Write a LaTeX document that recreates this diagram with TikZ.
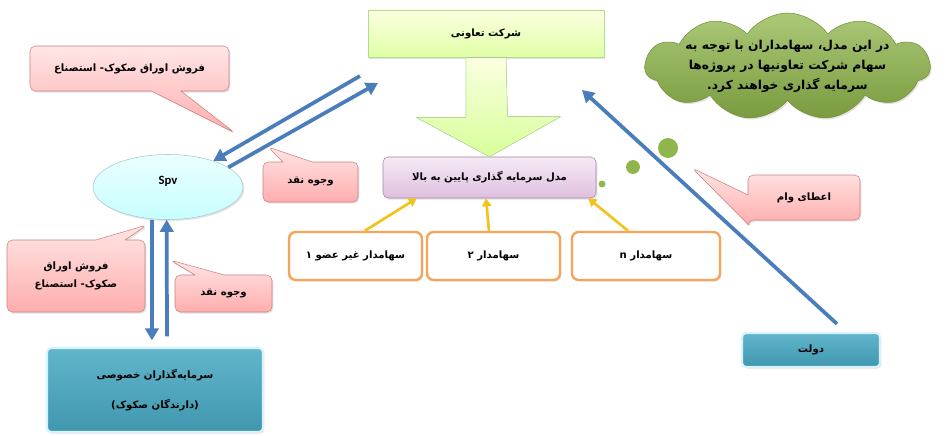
\documentclass[tikz,border=0pt]{standalone}
\usepackage{fontspec}
\setmainfont{Carlito}
\newfontfamily\farsifont[Script=Arabic]{DejaVu Sans}
\TeXXeTstate=1
\usetikzlibrary{shapes.geometric,shapes.callouts,shapes.symbols,shadows,arrows.meta}
\newcommand\rtl[1]{{\farsifont\beginR #1\endR}}
\definecolor{arrblue}{HTML}{4A7EBB}
\definecolor{arryellow}{HTML}{F2C31A}
\definecolor{boxorange}{HTML}{F5A55A}
\definecolor{tealbox}{HTML}{46A8C2}
\definecolor{cloudgreen}{HTML}{8FB64A}
\tikzset{
  base/.style={font=\fontsize{7.6}{10}\selectfont\bfseries, align=center, inner sep=0pt,
    drop shadow={opacity=.22, shadow xshift=1pt, shadow yshift=-1.2pt}},
  greenbox/.style={base, rectangle, draw=green!40!olive!45, top color=green!12!yellow!12, bottom color=green!35!yellow!35},
  purplebox/.style={base, rectangle, rounded corners=4pt, draw=violet!40!gray!70, top color=violet!8, bottom color=violet!25},
  holderbox/.style={base, rectangle, rounded corners=5pt, draw=boxorange, line width=1.8pt, fill=white},
  pinknote/.style={base, rectangle callout, rounded corners=4pt, callout pointer width=22pt, draw=red!45!gray!70, top color=red!10, bottom color=red!32},
  tealrect/.style={base, rectangle, rounded corners=3pt, draw=cyan!15, line width=1.6pt, top color=tealbox!85!white, bottom color=tealbox!90!black},
  bluearr/.style={draw=arrblue, line width=2.8pt, -{Triangle[length=9pt,width=10pt]}},
  yellowarr/.style={draw=arryellow, line width=2pt, -{Triangle[length=6pt,width=7pt]}}
}
\begin{document}
\begin{tikzpicture}[x=0.75pt,y=-0.75pt,line join=round]
  \useasboundingbox (0,0) rectangle (948,435);

  \node[greenbox, minimum width=177pt, minimum height=35.25pt] (company) at (486,33.5) {\rtl{شرکت تعاونی}};
  \node[purplebox, minimum width=159.75pt, minimum height=30.75pt] (model) at (489.5,177.5) {\rtl{مدل سرمایه گذاری پایین به بالا}};
  \fill[top color=green!12!yellow!12, bottom color=green!40!yellow!40, draw=green!40!olive!40]
    ([xshift=-15pt]company.south) -- ++(0,60) -- ++(-50,0) -- (model.north)
    -- ++(71,-40) -- ++(-53,0) -- ([xshift=15pt]company.south);

  \node[holderbox, minimum width=99.75pt, minimum height=36pt] (sh1) at (355.5,256) {\rtl{سهامدار غیر عضو ۱}};
  \node[holderbox, minimum width=99.75pt, minimum height=36pt] (sh2) at (493.5,256) {\rtl{سهامدار ۲}};
  \node[holderbox, minimum width=111pt, minimum height=36pt] (shn) at (646,256) {\rtl{سهامدار n}};
  \draw[yellowarr] ([xshift=7pt]sh1.north) -- ([xshift=25.5pt]model.south west);
  \draw[yellowarr] ([xshift=-3.4pt]sh2.north) -- ([xshift=-2.6pt]model.south);
  \draw[yellowarr] ([xshift=-13.5pt]shn.north) -- ([xshift=-6pt]model.south east);

  \node[base, font=\fontsize{9.5}{11}\selectfont\bfseries, ellipse, draw=cyan!35!gray!60, top color=cyan!8, bottom color=cyan!22,
    minimum width=112.5pt, minimum height=48.75pt] (spv) at (168,187) {\raisebox{2pt}[0pt][0pt]{Spv}};
  \node[tealrect, minimum width=162pt, minimum height=63pt] (private) at (155,390)
    {\rtl{سرمایه‌گذاران  خصوصی}\\[12pt]\rtl{(دارندگان صکوک)}};
  \node[tealrect, minimum width=103.5pt, minimum height=25.5pt] (dolat) at (811,350) {\rtl{دولت}};

  \coordinate (coopL) at (360,76);
  \coordinate (coopR) at (378,83);
  \coordinate (coopE) at (582,90);
  \draw[bluearr] (coopL) -- (spv.30);
  \draw[bluearr] (spv.18) -- (coopR);
  \draw[bluearr] ([xshift=-12pt]spv.south) -- ([xshift=-2.3pt,yshift=4.9pt]private.north);
  \draw[bluearr] ([xshift=9pt,yshift=8pt]private.north) -- ([xshift=-1pt]spv.south);
  \draw[bluearr] ([xshift=19.5pt,yshift=6pt]dolat.north) -- (coopE);

  \node[pinknote, minimum width=149.25pt, minimum height=33.75pt, callout absolute pointer={(235,133)}] (sale1) at (129.5,68.5)
    {\rtl{فروش اوراق صکوک- استصناع}};
  \node[pinknote, minimum width=71.25pt, minimum height=30pt, callout absolute pointer={(268,147)}] (cash1) at (310.5,182)
    {\rtl{وجوه نقد}};
  \node[pinknote, minimum width=103.5pt, minimum height=54pt, callout absolute pointer={(147,225)}] (sale2) at (76,276)
    {\rtl{فروش اوراق}\\[4pt]\rtl{صکوک- استصناع}};
  \node[pinknote, minimum width=72.75pt, minimum height=27.75pt, callout absolute pointer={(170,260)}] (cash2) at (223.5,293.5)
    {\rtl{وجوه نقد}};
  \node[pinknote, minimum width=84pt, minimum height=33.75pt, callout absolute pointer={(692,168)}] (loan) at (804,197.5)
    {\rtl{اعطای وام}};

  \node[base, font=\fontsize{9.2}{15}\selectfont\bfseries, cloud, cloud puffs=11, cloud puff arc=110, aspect=2.6,
    inner xsep=-28pt, inner ysep=-14pt, draw=cloudgreen!80!black,
    top color=cloudgreen!75!white, bottom color=cloudgreen!85!black,
    minimum width=213.75pt, minimum height=80.25pt] (idea) at (787.5,66.5)
    {\rtl{در این مدل، سهامداران با توجه به}\\\rtl{سهام شرکت تعاونیها در پروژه‌ها}\\\rtl{سرمایه گذاری خواهند کرد.}};
  \foreach \cx/\cy/\r in {668/148/7.5, 633/167/5.2, 602/184/2.6}
    \fill[cloudgreen] (\cx,\cy) circle (\r pt);
\end{tikzpicture}
\end{document}
